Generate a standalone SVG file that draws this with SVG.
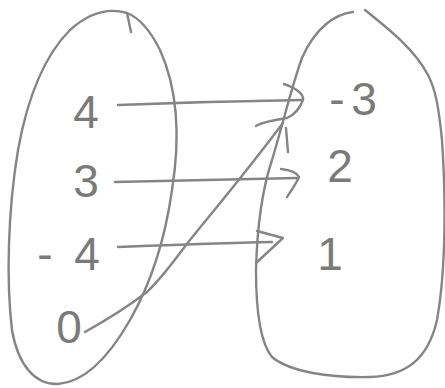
<svg xmlns="http://www.w3.org/2000/svg" width="445" height="388" viewBox="0 0 445 388">
<style>
.s{fill:none;stroke:#858585;stroke-width:2.4;stroke-linecap:round;stroke-linejoin:round}
.t{font-family:"Liberation Sans",Arial,sans-serif;font-size:46px;fill:#7a7a7a;text-anchor:middle}
</style>
<rect width="445" height="388" fill="#fff"/>
<g id="domain">
<path class="s" d="M127,13 C110,8 90,12 70,30 C45,55 28,95 18,150 C8,210 6,280 12,330 C18,365 35,385 58,384 C85,382 110,355 130,320 C150,285 165,240 172,190 C180,140 178,90 160,50 C150,30 140,18 127,13 L131,32"/>
<text class="t" x="86" y="128">4</text>
<text class="t" x="86" y="197">3</text>
<text class="t" x="70" y="270"><tspan x="45">-</tspan><tspan x="87">4</tspan></text>
<text class="t" x="69" y="343">0</text>
</g>
<g id="range">
<path class="s" d="M353,12 C335,14 315,28 302,58 C292,85 284,120 272,160 C262,190 257,230 256,270 C256,315 262,345 272,357 C290,372 330,378 370,377 C405,376 428,360 437,320 C446,270 446,200 442,140 C439,110 436,90 428,75 C415,50 390,30 365,10"/>
<text class="t" x="353" y="115"><tspan x="337">-</tspan><tspan x="364">3</tspan></text>
<text class="t" x="340" y="182">2</text>
<text class="t" x="330" y="270">1</text>
</g>
<g id="connectors">
<path class="s" d="M118,105 C170,103 240,101 302,100"/>
<path class="s" d="M284,84 C296,88 304,94 303,100 C300,108 294,115 287,118 C275,120 262,122 256,126"/>
<path class="s" d="M286,128 L288,152"/>
<path class="s" d="M115,182 C180,180 240,179 297,178"/>
<path class="s" d="M281,169 C290,170 297,173 299,177 C296,184 291,191 287,197"/>
<path class="s" d="M118,247 C170,245 225,243 272,242"/>
<path class="s" d="M257,231 L283,238 L256,263"/>
<path class="s" d="M85,332 C110,318 130,305 147,292 C165,275 178,255 190,240 C210,215 240,180 283,123"/>
</g>
</svg>
